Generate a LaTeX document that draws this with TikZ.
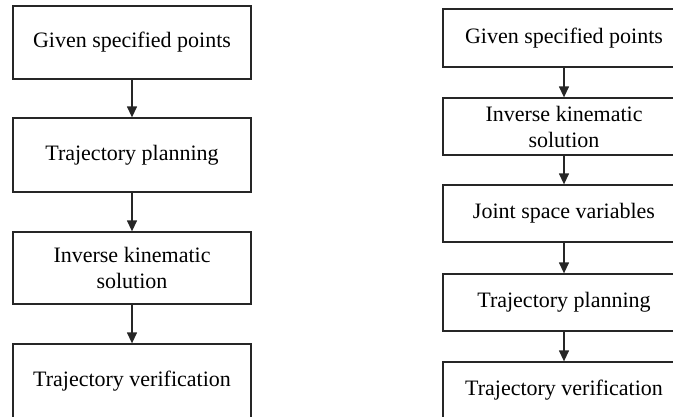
\documentclass[tikz,border=0pt]{standalone}
\usepackage{fontspec}
\setmainfont{Liberation Serif}
\usetikzlibrary{arrows.meta}
\tikzset{
  stage/.style={draw=black!85, line width=1.3pt, inner sep=0pt, align=center,
    font=\fontsize{22}{26}\selectfont},
  flow/.style={draw=black!85, line width=1.3pt, -{Triangle[length=11pt,width=10pt]}}
}

\begin{document}
\begin{tikzpicture}[x=1pt,y=-1pt]
\useasboundingbox (0,0) rectangle (673,416);
\clip (0,0) rectangle (673,416);
% left chart
\begin{scope}[stage/.append style={minimum width=238pt}]
\path (132,42.5) node[stage,minimum height=73pt] (lgiven) {Given specified points};
\path (132,155) node[stage,minimum height=74pt] (lplan) {Trajectory planning};
\path (132,268) node[stage,minimum height=72pt] (linv) {Inverse kinematic\\solution};
\path (132,381) node[stage,minimum height=74pt] (lverify) {Trajectory verification};
\end{scope}
\draw[flow] (lgiven) -- (lplan);
\draw[flow] (lplan) -- (linv);
\draw[flow] (linv) -- (lverify);
% right chart
\begin{scope}[stage/.append style={minimum width=242pt}]
\path (564,38) node[stage,minimum height=58pt] (rgiven) {Given specified points};
\path (564,126.5) node[stage,minimum height=57pt] (rinv) {Inverse kinematic\\solution};
\path (564,213.5) node[stage,minimum height=57pt] (rjoint) {Joint space variables};
\path (564,302.5) node[stage,minimum height=57pt] (rplan) {Trajectory planning};
\path (564,390) node[stage,minimum height=56pt] (rverify) {Trajectory verification};
\end{scope}
\draw[flow] (rgiven) -- (rinv);
\draw[flow] (rinv) -- (rjoint);
\draw[flow] (rjoint) -- (rplan);
\draw[flow] (rplan) -- (rverify);
\end{tikzpicture}
\end{document}
